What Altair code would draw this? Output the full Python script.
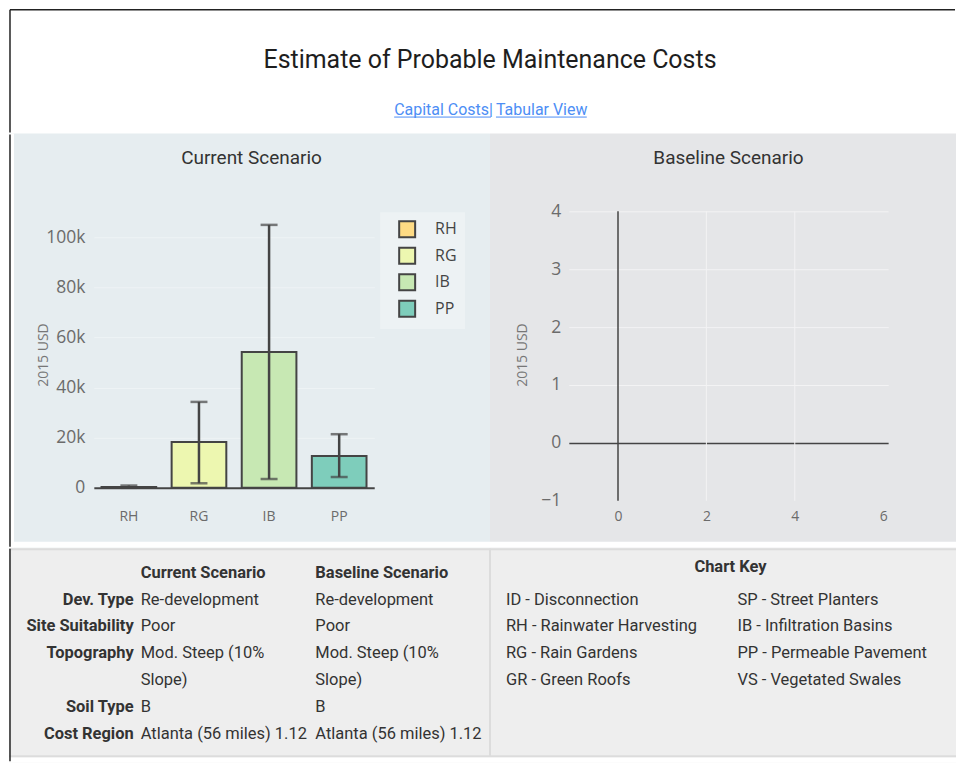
import altair as alt
import pandas as pd

# ---------------- data ----------------
page_title = "Estimate of Probable Maintenance Costs"
link_capital = "Capital Costs|"
link_tabular = "Tabular View"

panel_titles = ["Current Scenario", "Baseline Scenario"]
y_title = "2015 USD"

categories = ["RH", "RG", "IB", "PP"]
costs = [300, 18300, 54200, 12700]
err_low = [0, 1800, 3500, 4300]
err_high = [900, 34300, 105000, 21400]
bar_colors = ["#fedb84", "#edf7b0", "#c7e8b3", "#7ecdbb"]

baseline_x = []
baseline_y = []

y_ticks_current = [0, 20000, 40000, 60000, 80000, 100000]
x_ticks_baseline = [0, 2, 4, 6]
y_ticks_baseline = [-1, 0, 1, 2, 3, 4]

table_headers = ["Current Scenario", "Baseline Scenario"]
row_labels = ["Dev. Type", "Site Suitability", "Topography", "Soil Type", "Cost Region"]
current_values = [["Re-development"], ["Poor"], ["Mod. Steep (10%", "Slope)"], ["B"],
                  ["Atlanta (56 miles) 1.12"]]
baseline_values = [["Re-development"], ["Poor"], ["Mod. Steep (10%", "Slope)"], ["B"],
                   ["Atlanta (56 miles) 1.12"]]
key_title = "Chart Key"
key_left = ["ID - Disconnection", "RH - Rainwater Harvesting", "RG - Rain Gardens", "GR - Green Roofs"]
key_right = ["SP - Street Planters", "IB - Infiltration Basins", "PP - Permeable Pavement",
             "VS - Vegetated Swales"]

# ---------------- helpers ----------------
FONT = "Roboto"
PLOT_FONT = "Open Sans"
ONE = pd.DataFrame({"k": [0]})


def label(text, x, y, size, color="#333333", weight="normal", align="center",
          baseline="middle", font=FONT, angle=0):
    kw = dict(fontSize=size, color=color, fontWeight=weight, align=align,
              baseline=baseline, font=font)
    if angle:
        kw["angle"] = angle
    return alt.Chart(pd.DataFrame({"t": [text]})).mark_text(**kw).encode(
        text="t:N", x=alt.value(x), y=alt.value(y))


def hrule(x1, x2, y, color, w):
    return alt.Chart(ONE).mark_rule(color=color, strokeWidth=w).encode(
        x=alt.value(x1), x2=alt.value(x2), y=alt.value(y))


def vrule(x, y1, y2, color, w):
    return alt.Chart(ONE).mark_rule(color=color, strokeWidth=w).encode(
        x=alt.value(x), y=alt.value(y1), y2=alt.value(y2))


def box(x1, x2, y1, y2, color):
    return alt.Chart(ONE).mark_rect(color=color).encode(
        x=alt.value(x1), x2=alt.value(x2), y=alt.value(y1), y2=alt.value(y2))


W_TOTAL = 949
W_LEFT = 482
W_RIGHT = W_TOTAL - W_LEFT
H_HEAD = 125
H_PANEL = 415
H_TABLE = 215
BORDER = "#222222"

# ---------------- header ----------------
header = alt.layer(
    hrule(1, W_TOTAL - 1, 1, BORDER, 1.5),
    vrule(1, 1, H_HEAD - 1, BORDER, 1.5),
    label(page_title, 482, 59, 25, color="#1e1e1e", baseline="alphabetic"),
    label(link_capital, 386, 106, 16, color="#4d8ef5", align="left", baseline="alphabetic"),
    label(link_tabular, 488, 106, 16, color="#4d8ef5", align="left", baseline="alphabetic"),
    hrule(386, 483, 108.5, "#4d8ef5", 1),
    hrule(488, 579, 108.5, "#4d8ef5", 1),
).properties(width=W_TOTAL, height=H_HEAD, view=alt.ViewBackground(fill="white"))

# ---------------- current scenario panel ----------------
cur_df = pd.DataFrame({"cat": categories, "cost": costs, "lo": err_low, "hi": err_high})

x_cur = alt.X("cat:N", sort=categories,
              scale=alt.Scale(domain=categories, range=[85, 366], paddingInner=0.22,
                              paddingOuter=0.11),
              axis=alt.Axis(title=None, orient="bottom", offset=-60, domainColor="#444444",
                            domainWidth=2, ticks=False, labelPadding=22, labelFontSize=14,
                            labelColor="#6b6b6b", labelFont=PLOT_FONT, labelAngle=0,
                            grid=False))
y_scale_cur = alt.Scale(domain=[0, 110000], range=[355, 79], nice=False, zero=False)
y_cur = alt.Y("cost:Q", scale=y_scale_cur,
              axis=alt.Axis(title=None, values=y_ticks_current,
                            labelExpr="datum.value == 0 ? '0' : (datum.value / 1000) + 'k'",
                            offset=-80, domain=False, ticks=False, labelPadding=4,
                            labelFontSize=17.5, labelColor="#6b6b6b", labelFont=PLOT_FONT,
                            grid=True, gridColor="#eef3f5", gridWidth=1))

bars = alt.Chart(cur_df).mark_bar(stroke="#444444", strokeWidth=2).encode(
    x=x_cur, y=y_cur,
    color=alt.Color("cat:N", scale=alt.Scale(domain=categories, range=bar_colors),
                    legend=alt.Legend(title=None, orient="none", legendX=372, legendY=79,
                                      fillColor="#edf2f4", padding=8, symbolType="square",
                                      symbolSize=256, symbolStrokeColor="#444444",
                                      symbolStrokeWidth=2, symbolOffset=10, labelOffset=19,
                                      labelFontSize=16, labelColor="#444444",
                                      labelFont=PLOT_FONT, rowPadding=2.5)))
err_rule = alt.Chart(cur_df).mark_rule(color="#444444", strokeWidth=2.5).encode(
    x=alt.X("cat:N", sort=categories), y=alt.Y("lo:Q"), y2="hi:Q")
cap_lo = alt.Chart(cur_df).mark_tick(color="#444444", thickness=2.5, size=17,
                                     orient="horizontal").encode(
    x=alt.X("cat:N", sort=categories), y=alt.Y("lo:Q"))
cap_hi = alt.Chart(cur_df).mark_tick(color="#444444", thickness=2.5, size=17,
                                     orient="horizontal").encode(
    x=alt.X("cat:N", sort=categories), y=alt.Y("hi:Q"))

left_panel = alt.layer(
    bars, err_rule, cap_lo, cap_hi,
    box(0, 5, 0, H_PANEL, "white"),
    box(0, W_LEFT, 409, H_PANEL, "white"),
    vrule(1, 1, H_PANEL - 1, BORDER, 1.5),
    label(panel_titles[0], 243, 25, 19, color="#333333"),
    label(y_title, 35, 222, 14, color="#777777", font=PLOT_FONT, angle=270),
).properties(width=W_LEFT, height=H_PANEL, view=alt.ViewBackground(fill="#e6edf0"))

# ---------------- baseline scenario panel ----------------
base_df = pd.DataFrame({"x": pd.Series(baseline_x, dtype="float"),
                        "y": pd.Series(baseline_y, dtype="float")})

zero_color = alt.condition("datum.value === 0", alt.value("#444444"), alt.value("#f3f3f4"))
zero_width = alt.condition("datum.value === 0", alt.value(1.5), alt.value(1))

x_scale_base = alt.Scale(domain=[-1, 6], range=[79, 399], nice=False, zero=False)
y_scale_base = alt.Scale(domain=[-1, 4], range=[368, 78], nice=False, zero=False)

x_base = alt.X("x:Q", scale=x_scale_base,
               axis=alt.Axis(title=None, values=x_ticks_baseline, format="d", offset=-47,
                             domain=False, ticks=False, labelPadding=9, labelFontSize=14,
                             labelColor="#6b6b6b", labelFont=PLOT_FONT, grid=False))
y_base = alt.Y("y:Q", scale=y_scale_base,
               axis=alt.Axis(title=None, values=y_ticks_baseline, format="d", offset=-75,
                             domain=False, ticks=False, labelPadding=4, labelFontSize=17.5,
                             labelColor="#6b6b6b", labelFont=PLOT_FONT, grid=True,
                             gridColor=zero_color, gridWidth=zero_width,
                             gridOpacity=alt.condition("datum.value < 0", alt.value(0),
                                                       alt.value(1))))

base_marks = alt.Chart(base_df).mark_bar().encode(x=x_base, y=y_base)

vgrid_df = pd.DataFrame({"gx": [v for v in x_ticks_baseline if v not in (0, x_ticks_baseline[-1])]})
vgrid = alt.Chart(vgrid_df).mark_rule(color="#f3f3f4", strokeWidth=1).encode(
    x=alt.X("gx:Q", scale=x_scale_base), y=alt.datum(y_ticks_baseline[0]),
    y2=alt.datum(y_ticks_baseline[-1]))
vzero = alt.Chart(ONE).mark_rule(color="#444444", strokeWidth=1.5).encode(
    x=alt.datum(0), y=alt.datum(y_ticks_baseline[0]), y2=alt.datum(y_ticks_baseline[-1]))

right_panel = alt.layer(
    vgrid, vzero, base_marks,
    box(0, W_RIGHT, 409, H_PANEL, "white"),
    label(panel_titles[1], 239, 25, 19, color="#333333"),
    label(y_title, 33, 222, 14, color="#777777", font=PLOT_FONT, angle=270),
).properties(width=W_RIGHT, height=H_PANEL, view=alt.ViewBackground(fill="#e5e6e8"))

panels = alt.hconcat(left_panel, right_panel, spacing=0).resolve_scale(
    x="independent", y="independent", color="independent").resolve_legend(color="independent")

# ---------------- table ----------------
lab_rows, cur_rows, base_rows = [], [], []
line = 1
for lab, cv, bv in zip(row_labels, current_values, baseline_values):
    lab_rows.append({"t": lab, "line": line})
    for i, s in enumerate(cv):
        cur_rows.append({"t": s, "line": line + i})
    for i, s in enumerate(bv):
        base_rows.append({"t": s, "line": line + i})
    line += max(len(cv), len(bv))

y_tab = alt.Y("line:Q", scale=alt.Scale(domain=[0, 6], range=[25, 187], nice=False, zero=False),
              axis=None)


def col(rows, x, weight="normal", align="left"):
    return alt.Chart(pd.DataFrame(rows)).mark_text(
        font=FONT, fontSize=16.5, color="#333333", fontWeight=weight, align=align,
        baseline="middle").encode(text="t:N", x=alt.value(x), y=y_tab)


head_rows = [{"t": table_headers[0], "line": 0}]
head_rows2 = [{"t": table_headers[1], "line": 0}]
key_l = [{"t": s, "line": i + 1} for i, s in enumerate(key_left)]
key_r = [{"t": s, "line": i + 1} for i, s in enumerate(key_right)]

table = alt.layer(
    box(0, W_TOTAL, 210, H_TABLE, "white"),
    hrule(0, W_TOTAL, 1.5, "#dcdcdc", 2),
    hrule(0, W_TOTAL, 209, "#dcdcdc", 2),
    vrule(482, 1, 209, "#dcdcdc", 2),
    vrule(1, 1, H_TABLE - 1, BORDER, 1.5),
    col(head_rows, 132, weight="bold"),
    col(head_rows2, 307, weight="bold"),
    col(lab_rows, 125, weight="bold", align="right"),
    col(cur_rows, 132),
    col(base_rows, 307),
    col(key_l, 498),
    col(key_r, 730),
    label(key_title, 723, 19, 16.5, color="#333333", weight="bold"),
).properties(width=W_TOTAL, height=H_TABLE, view=alt.ViewBackground(fill="#eeeeee"))

chart = alt.vconcat(header, panels, table, spacing=0).resolve_scale(
    x="independent", y="independent", color="independent"
).resolve_legend(color="independent").properties(padding=0).configure_view(strokeWidth=0)

chart.save("out.html", embed_options={"renderer": "svg", "actions": False})
